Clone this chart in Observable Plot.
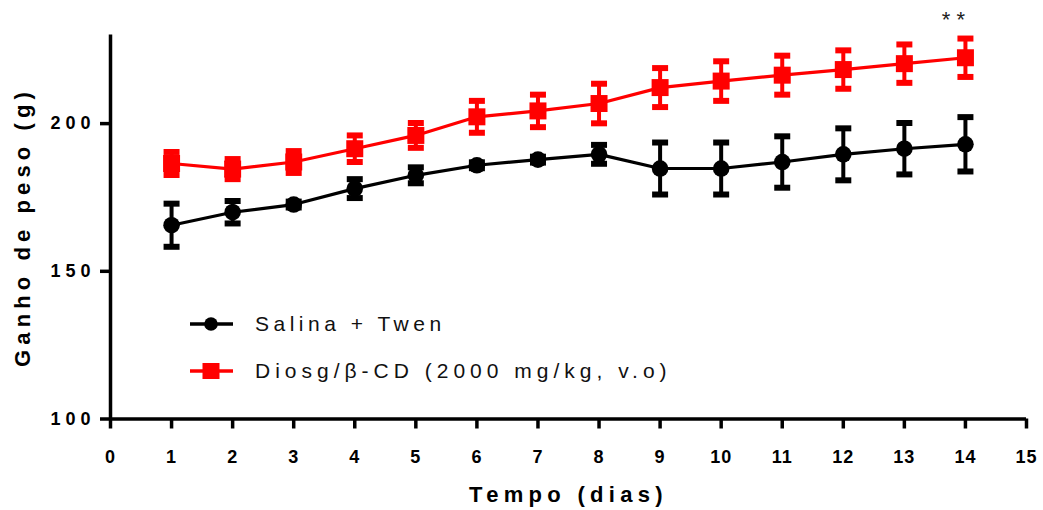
<!DOCTYPE html>
<html>
<head>
<meta charset="utf-8">
<script src="https://cdn.jsdelivr.net/npm/d3@7"></script>
<script src="https://cdn.jsdelivr.net/npm/@observablehq/plot@0.6"></script>
<style>
  html, body { margin: 0; padding: 0; background: #fff; }
  #wrap { position: relative; width: 1043px; height: 510px; font-family: "Liberation Sans", Arial, sans-serif; }
  g[aria-label="y-axis tick label"] text { letter-spacing: 5px; }
  g[aria-label="x-axis tick label"] text { letter-spacing: 1px; }
  g[aria-description="x-title"] text { letter-spacing: 5.3px; }
  g[aria-description="y-title"] text { letter-spacing: 5.1px; }
  g[aria-description="stars"] text { letter-spacing: 6px; }
  .legend { position: absolute; left: 190px; font-size: 21px; color: #111; display: flex; align-items: center; }
  .legend svg { margin-right: 22px; }
</style>
</head>
<body>
<div id="wrap"></div>
<script>
// ---- data ----
const days = [1, 2, 3, 4, 5, 6, 7, 8, 9, 10, 11, 12, 13, 14];
const salina = [165.6, 170.0, 172.6, 178.0, 182.5, 185.9, 187.8, 189.6, 184.8, 184.8, 187.0, 189.6, 191.5, 193.0];
const salinaSem = [7.3, 3.8, 1.0, 3.2, 2.7, 1.0, 1.0, 3.2, 8.8, 8.8, 8.7, 8.8, 8.7, 9.2];
const diosg = [186.5, 184.6, 187.0, 191.5, 196.0, 202.3, 204.3, 206.8, 212.2, 214.4, 216.4, 218.3, 220.3, 222.3];
const diosgSem = [3.9, 3.4, 3.7, 4.5, 4.2, 5.4, 5.5, 6.7, 6.6, 6.7, 6.6, 6.5, 6.5, 6.5];
const seriesNames = ["Salina + Twen", "Diosg/\u03b2-CD (2000 mg/kg, v.o)"];
const seriesColors = ["#000000", "#ff0000"];
const xTicks = [0, 1, 2, 3, 4, 5, 6, 7, 8, 9, 10, 11, 12, 13, 14, 15];
const yTicks = [100, 150, 200];
const annotations = [{day: 14, label: "**"}];
const xTitle = "Tempo (dias)";
const yTitle = "Ganho de peso (g)";

// ---- table ----
const rows = [];
days.forEach((d, i) => {
  rows.push({day: d, value: salina[i], sem: salinaSem[i], series: seriesNames[0]});
  rows.push({day: d, value: diosg[i], sem: diosgSem[i], series: seriesNames[1]});
});
const s0 = rows.filter(r => r.series === seriesNames[0]);
const s1 = rows.filter(r => r.series === seriesNames[1]);

const capSymbol = { draw(ctx) { ctx.rect(-8, -3, 16, 6); } };
const squareSymbol = { draw(ctx) { ctx.rect(-8.5, -8.5, 17, 17); } };
const circleSymbol = { draw(ctx) { ctx.moveTo(8.3, 0); ctx.arc(0, 0, 8.3, 0, 2 * Math.PI); } };

function seriesMarks(data, color, symbol) {
  return [
    Plot.line(data, {x: "day", y: "value", stroke: color, strokeWidth: 3.2}),
    Plot.ruleX(data, {x: "day", y1: d => d.value - d.sem, y2: d => d.value + d.sem, stroke: color, strokeWidth: 4}),
    Plot.dot(data, {x: "day", y: d => d.value - d.sem, symbol: capSymbol, fill: color, stroke: "none"}),
    Plot.dot(data, {x: "day", y: d => d.value + d.sem, symbol: capSymbol, fill: color, stroke: "none"}),
    Plot.dot(data, {x: "day", y: "value", symbol: symbol, fill: color, stroke: "none"})
  ];
}

const chart = Plot.plot({
  width: 1043,
  height: 510,
  marginLeft: 110,
  marginRight: 17,
  marginTop: 34.5,
  marginBottom: 91.5,
  style: {fontFamily: "'Liberation Sans', Arial, sans-serif", color: "#000", background: "#fff"},
  x: {domain: [0, 15]},
  y: {domain: [100, 230]},
  marks: [
    Plot.axisX({ticks: xTicks, tickSize: 10, tickPadding: 21, tickFormat: d => String(d), fontSize: 18, fontWeight: "bold", strokeWidth: 3.5, label: null}),
    Plot.axisY({ticks: yTicks, tickSize: 10, tickPadding: 5, tickFormat: d => String(d), fontSize: 18, fontWeight: "bold", strokeWidth: 3.5, label: null}),
    Plot.ruleY([100], {stroke: "#000", strokeWidth: 3.5}),
    Plot.ruleX([0], {stroke: "#000", strokeWidth: 3.5}),
    ...seriesMarks(s0, seriesColors[0], circleSymbol),
    ...seriesMarks(s1, seriesColors[1], squareSymbol),
    Plot.text(annotations, {x: "day", text: "label", frameAnchor: "top", dy: -15, dx: -9, lineAnchor: "middle", fontSize: 22, fill: "#222", ariaDescription: "stars"}),
    Plot.text([xTitle], {text: d => d, frameAnchor: "bottom", dy: 76, lineAnchor: "middle", textAnchor: "middle", fontSize: 22, fontWeight: "bold", ariaDescription: "x-title"}),
    Plot.text([yTitle], {text: d => d, frameAnchor: "left", rotate: -90, dx: -88, lineAnchor: "middle", textAnchor: "middle", fontSize: 22, fontWeight: "bold", ariaDescription: "y-title"})
  ]
});

const wrap = document.getElementById("wrap");
wrap.appendChild(chart);

// ---- legend (HTML overlay) ----
const legendTops = [312, 359];
const legendSpacing = ["4.5px", "5px"];
seriesNames.forEach((name, i) => {
  const div = document.createElement("div");
  div.className = "legend";
  div.style.top = legendTops[i] + "px";
  div.style.letterSpacing = legendSpacing[i];
  const color = seriesColors[i];
  const sym = i === 0
    ? `<circle cx="21" cy="12" r="6.8" fill="${color}"/>`
    : `<rect x="12.5" y="4" width="17" height="16" fill="${color}"/>`;
  div.innerHTML = `<svg width="43" height="24"><line x1="0" x2="43" y1="12" y2="12" stroke="${color}" stroke-width="3.5"/>${sym}</svg><span>${name}</span>`;
  wrap.appendChild(div);
});
</script>
</body>
</html>
